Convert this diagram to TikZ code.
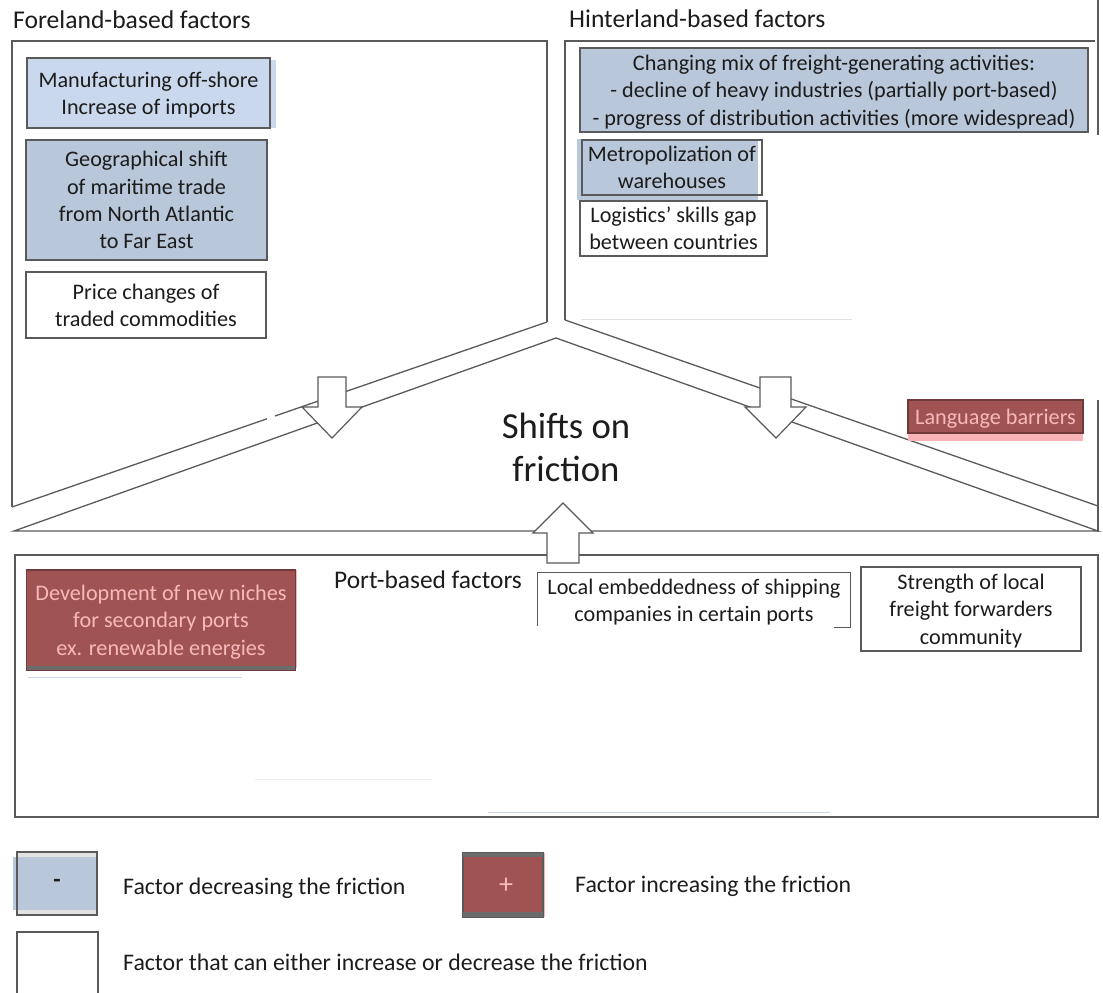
\documentclass[tikz,border=0pt]{standalone}
\usepackage{fontspec}
\setmainfont{Carlito}
\definecolor{bluegrey}{HTML}{B9C7DA}
\definecolor{lightblue}{HTML}{C9D8EC}
\definecolor{redbox}{HTML}{A05353}
\definecolor{pinktext}{HTML}{F7B9B9}
\definecolor{pinkstrip}{HTML}{F9B4B8}
\definecolor{edge}{HTML}{5A5A5A}
\definecolor{txt}{HTML}{1C1C1C}
\definecolor{faintblue}{HTML}{CBD6EC}
\definecolor{faintgrey}{HTML}{E2E2E2}
\newcommand\bxfont{\fontsize{22.2}{27.3}\selectfont}
\newcommand\hdfont{\fontsize{25.6}{28}\selectfont}
\newcommand\lgfont{\fontsize{23.8}{28}\selectfont}
\begin{document}
\begin{tikzpicture}[x=1pt,y=-1pt,
  outline/.style={draw=edge,line width=1.3pt},
  fbox/.style={draw=edge,line width=1.3pt,inner sep=0pt,align=center,font=\bxfont,text=txt,text depth=0pt},
  blueb/.style={fbox,fill=bluegrey},
  lblueb/.style={fbox,fill=lightblue},
  whiteb/.style={fbox,fill=white},
  redb/.style={fbox,fill=redbox,draw=redbox!70!black,text=pinktext},
  header/.style={anchor=west,inner sep=0pt,font=\hdfont,text=txt},
  legtext/.style={anchor=west,inner sep=0pt,font=\lgfont,text=txt},
  blockarrow/.style={draw=edge,line width=1.2pt,fill=white,line join=miter},
  faint/.style={line width=1pt}
]
\useasboundingbox (0,0) rectangle (1103,993);

% headers
\node[header] (fore) at (13,20) {Foreland-based factors};
\node[header] (hint) at (569,19) {Hinterland-based factors};

% outlines of foreland and hinterland areas
\draw[outline] (547,322) -- (547,41) -- (12,41) -- (12,507);
\draw[outline] (12,507) -- (267,418.8);
\draw[outline] (275,416) -- (547,322);
\draw[outline] (565,320) -- (565,41) -- (1095,41);
\draw[outline] (1098,0) -- (1098,135);
\draw[outline] (1098,400) -- (1098,532);
\draw[outline] (565,320) -- (1098,506);

% central triangle
\draw[outline] (14,531) -- (556,338) -- (1098,531) -- cycle;

% port box
\draw[outline] (15,555) rectangle (1098,817);

% faint artefact lines
\draw[faint,faintgrey] (581,319) -- (852,319);
\draw[faint,faintblue] (28,677) -- (242,677);
\draw[faint,faintgrey!60] (255,779) -- (432,779);
\draw[faint,faintblue] (488,812) -- (830,812);

% block arrows
\draw[blockarrow] (318,377) -- (346,377) -- (346,407) -- (362,407) -- (332,438) -- (302,407) -- (318,407) -- cycle;
\draw[blockarrow] (760,377) -- (791,377) -- (791,407) -- (806,407) -- (776,438) -- (745,407) -- (760,407) -- cycle;
\draw[blockarrow] (547,563) -- (547,533) -- (533,533) -- (563,503) -- (593,533) -- (579,533) -- (579,563) -- cycle;

% centre text
\node[align=center,inner sep=0pt,font=\fontsize{36.7}{43}\selectfont,text=txt] (shifts) at (566,447) {Shifts on\\friction};

% foreland factors
\fill[lightblue] (268,60) rectangle (276,128);
\node[lblueb,minimum width=243,minimum height=70] (manu) at (148.5,93) {Manufacturing off-shore\\Increase of imports};
\node[blueb,minimum width=241,minimum height=120] (geo) at (146.5,200) {Geographical shift\\ of maritime trade\\from North Atlantic\\to Far East};
\node[whiteb,minimum width=240,minimum height=66] (price) at (146,305) {Price changes of\\traded commodities};

% hinterland factors
\node[blueb,minimum width=508,minimum height=84] (mix) at (834,90) {Changing mix of freight-generating activities:\\- decline of heavy industries (partially port-based)\\- progress of distribution activities (more widespread)};
\fill[bluegrey] (577,139) rectangle (758,200);
\node[fbox,minimum width=180,minimum height=55] (metro) at (672,167.5) {Metropolization of\\warehouses};
\node[whiteb,minimum width=187,minimum height=55] (logi) at (673.5,228.5) {Logistics' skills gap\\between countries};

% language barriers
\fill[pinkstrip] (908,433) rectangle (1083,441);
\node[redb,minimum width=175,minimum height=33] (lang) at (995.5,416.5) {Language barriers};

% port factors
\node[inner sep=0pt,anchor=west,font=\fontsize{25.4}{28}\selectfont,text=txt] (port) at (334,580) {Port-based factors};
\fill[pinkstrip] (293,570) rectangle (297,668);
\node[redb,minimum width=269,minimum height=100] (devel) at (161,620) {Development of new niches\\for secondary ports\\ex. renewable energies};
\fill[edge!90] (27,666) rectangle (295,670);
\node[fbox,draw=none,minimum width=312,minimum height=54] (local) at (694,600) {Local embeddedness of shipping\\companies in certain ports};
\draw[outline] ([xshift=-17pt]local.south east) -- (local.south east) -- (local.north east) -- (local.north west) -- ([yshift=2pt]local.south west);
\node[whiteb,minimum width=220,minimum height=84] (strength) at (971,609) {Strength of local\\freight forwarders\\community};

% legend
\fill[bluegrey] (13,857) rectangle (97,910);
\fill[faintgrey] (17,852) rectangle (97,857);
\fill[faintgrey] (17,910) rectangle (97,915);
\node[fbox,minimum width=80,minimum height=63,font=\fontsize{24}{28}\selectfont\bfseries] (minus) at (57,883.5) {-};
\node[legtext] (ldec) at (123,888) {Factor decreasing the friction};
\fill[pinkstrip] (541,853) rectangle (545,917);
\node[fbox,fill=redbox,minimum width=80,minimum height=64,text=pinktext,font=\fontsize{28}{30}\selectfont] (plus) at (503,885) {};
\node[inner sep=0pt,text=pinktext,font=\fontsize{28}{30}\selectfont] (plussign) at (506,886) {+};
\fill[edge!90] (463,853) rectangle (543,857);
\fill[edge!90] (463,912) rectangle (543,917);
\node[legtext] (linc) at (575,886) {Factor increasing the friction};
\node[whiteb,minimum width=81,minimum height=70] (either) at (57.5,967) {};
\node[legtext] (leith) at (123,962) {Factor that can either increase or decrease the friction};
\end{tikzpicture}
\end{document}
